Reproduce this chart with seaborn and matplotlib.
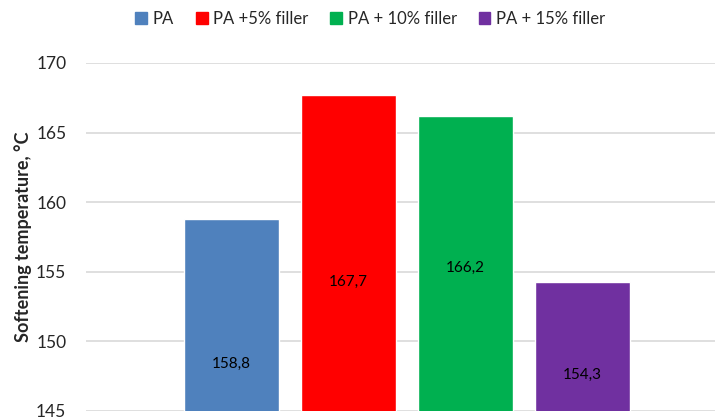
import matplotlib
matplotlib.use("Agg")
import matplotlib.pyplot as plt
import pandas as pd
import seaborn as sns

# Data
samples = ["PA", "PA +5% filler", "PA + 10% filler", "PA + 15% filler"]
softening_temp = [158.8, 167.7, 166.2, 154.3]
value_labels = ["158,8", "167,7", "166,2", "154,3"]
label_y = [148.4, 154.3, 155.3, 147.6]
colors = ["#4f81bd", "#ff0000", "#00b050", "#7030a0"]
yticks = [145, 150, 155, 160, 165, 170]

df = pd.DataFrame({"sample": samples, "temp": softening_temp})

sns.set_style("white")
plt.rcParams["font.family"] = ["Lato", "DejaVu Sans"]

fig = plt.figure(figsize=(7.15, 4.17), dpi=100)
ax = fig.add_axes([0.120, 0.0144, 0.880, 0.8346])

sns.barplot(data=df, x="sample", y="temp", hue="sample", palette=colors,
            dodge=False, width=0.81, saturation=1, legend=False, ax=ax, zorder=3)

for i, (txt, y) in enumerate(zip(value_labels, label_y)):
    ax.text(i, y, txt, ha="center", va="center", fontsize=11, color="black", zorder=4)

ax.set_ylim(145, 170)
ax.set_xlim(-1.24, 4.13)
ax.set_yticks(yticks)
ax.set_yticklabels([str(t) for t in yticks], fontsize=12.5, color="#262626")
ax.set_xticks([])
ax.set_xlabel("")
ax.set_ylabel("Softening temperature, °C", fontsize=13, fontweight="bold", labelpad=3)
ax.tick_params(axis="y", length=0, pad=14)
ax.yaxis.grid(True, color="#d9d9d9", lw=1.2, zorder=0)
for s in ax.spines.values():
    s.set_visible(False)

handles = [plt.Rectangle((0, 0), 1, 1, color=c) for c in colors]
fig.legend(handles, samples, loc="center", bbox_to_anchor=(0.518, 0.955), ncol=4,
           frameon=False, fontsize=12, handlelength=0.7, handleheight=0.7,
           handletextpad=0.35, columnspacing=1.3)

fig.savefig("out.png", dpi=100)
